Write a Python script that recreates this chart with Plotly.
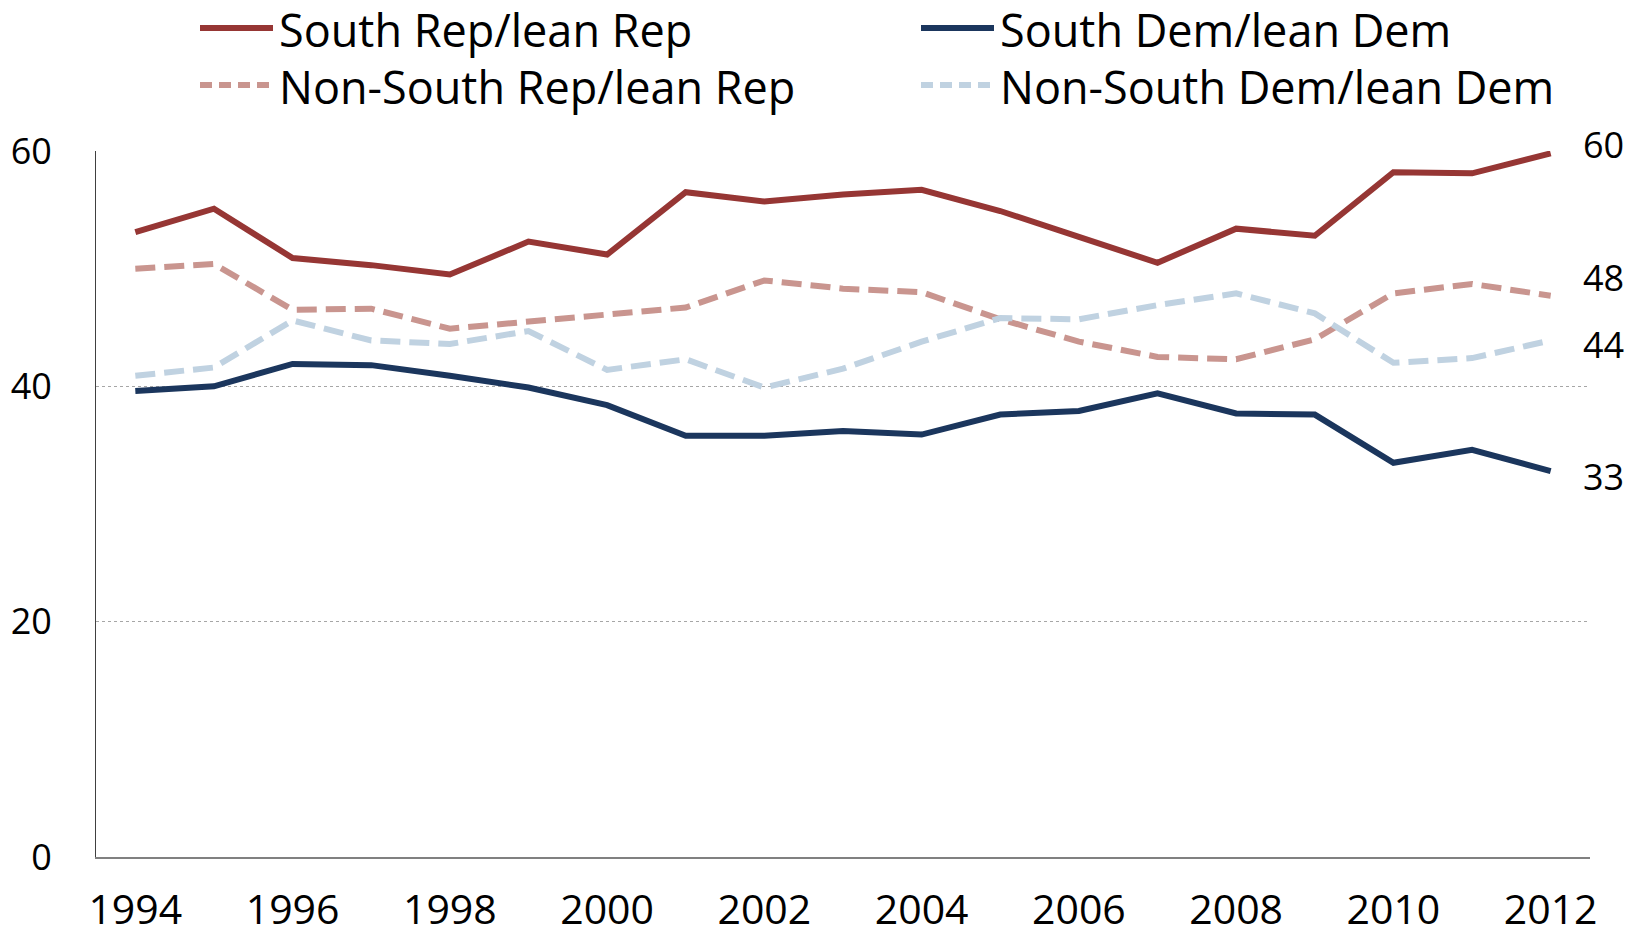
import plotly.graph_objects as go

years = list(range(1994, 2013))

south_rep = [53.1, 55.1, 50.9, 50.3, 49.5, 52.3, 51.2, 56.5, 55.7, 56.3,
             56.7, 54.9, 52.7, 50.5, 53.4, 52.8, 58.2, 58.1, 59.8]
south_dem = [39.6, 40.0, 41.9, 41.8, 40.9, 39.9, 38.4, 35.8, 35.8, 36.2,
             35.9, 37.6, 37.9, 39.4, 37.7, 37.6, 33.5, 34.6, 32.8]
nonsouth_rep = [50.0, 50.4, 46.5, 46.6, 44.9, 45.5, 46.1, 46.7, 49.0, 48.3,
                48.0, 45.7, 43.8, 42.5, 42.3, 44.0, 47.9, 48.7, 47.7]
nonsouth_dem = [40.9, 41.6, 45.6, 43.9, 43.6, 44.7, 41.4, 42.3, 39.9, 41.5,
                43.8, 45.8, 45.7, 46.9, 47.9, 46.2, 42.0, 42.4, 43.9]

names = ["South Rep/lean Rep", "South Dem/lean Dem",
         "Non-South Rep/lean Rep", "Non-South Dem/lean Dem"]
colors = ["#963634", "#1B365D", "#C9958F", "#C0D2E1"]
dashes = ["solid", "solid", "20px,9px", "20px,9px"]
series = [south_rep, south_dem, nonsouth_rep, nonsouth_dem]

x_ticks = list(range(1994, 2013, 2))
y_ticks = [0, 20, 40, 60]

FONT = "Open Sans"

fig = go.Figure()
for name, vals, col, d in zip(names, series, colors, dashes):
    fig.add_trace(go.Scatter(x=years, y=vals, name=name, mode="lines",
                             line=dict(color=col, width=6, dash=d),
                             showlegend=False))

# end-of-line value labels
label_shift = [9, -5, 18, -4]
for vals, ys in zip(series, label_shift):
    fig.add_annotation(x=years[-1], y=vals[-1], text=str(round(vals[-1])),
                       showarrow=False, xanchor="left", xshift=30, yshift=ys,
                       font=dict(family=FONT, size=36, color="black"))

# hand-drawn legend (two rows, two columns)
W, H = 1494, 706
leg_pos = [(200, 28), (921, 28), (200, 85), (921, 85)]
for name, col, d, (px, py) in zip(names, colors, dashes, leg_pos):
    x0 = (px - 96) / W
    x1 = (px + 73 - 96) / W
    yy = (857 - py) / H
    fig.add_shape(type="line", xref="paper", yref="paper", x0=x0, x1=x1, y0=yy, y1=yy,
                  line=dict(color=col, width=6, dash="solid" if d == "solid" else "12px,7px"))
    fig.add_annotation(xref="paper", yref="paper", x=(px + 78 - 96) / W, y=yy,
                       text=name, showarrow=False, xanchor="left", yanchor="middle",
                       borderpad=0, yshift=-1,
                       font=dict(family=FONT, size=45, color="black"))

fig.update_layout(
    width=1637, height=935,
    margin=dict(l=96, r=47, t=151, b=78),
    plot_bgcolor="white", paper_bgcolor="white",
    font=dict(family=FONT, color="black"),
    showlegend=False,
)
fig.update_xaxes(range=[1993.5, 2012.5], tickvals=x_ticks, ticktext=[str(v) for v in x_ticks],
                 showgrid=False, showline=True, linecolor="#808080", linewidth=2,
                 ticks="", tickfont=dict(size=41, family=FONT), ticklabelstandoff=16,
                 zeroline=False, automargin=False)
fig.update_yaxes(range=[0, 60], tickvals=y_ticks, showgrid=True, gridcolor="#A6A6A6",
                 gridwidth=1, griddash="dot", showline=True, linecolor="#404040",
                 linewidth=1, ticks="", tickfont=dict(size=36, family=FONT),
                 ticklabelstandoff=36, zeroline=False, automargin=False)

fig.write_html("out.html", config={"displayModeBar": False},
               post_script="document.body.style.margin='0';")
